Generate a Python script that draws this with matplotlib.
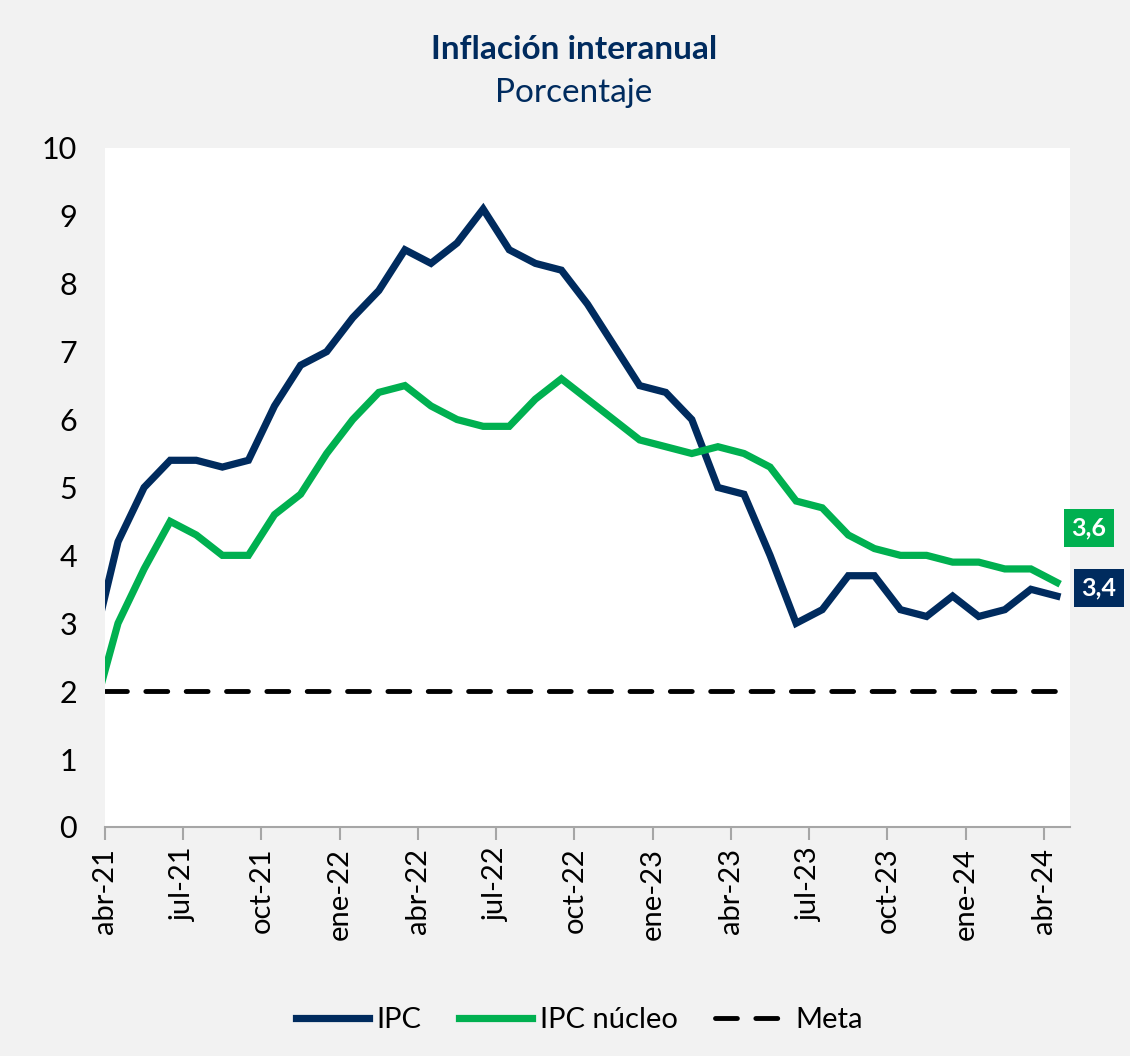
import numpy as np
import matplotlib.pyplot as plt

# meses mar-21 .. abr-24 (el primero queda fuera del eje, recortado)
meses = ['mar-21', 'abr-21', 'may-21', 'jun-21', 'jul-21', 'ago-21', 'sep-21', 'oct-21', 'nov-21', 'dic-21',
         'ene-22', 'feb-22', 'mar-22', 'abr-22', 'may-22', 'jun-22', 'jul-22', 'ago-22', 'sep-22', 'oct-22',
         'nov-22', 'dic-22', 'ene-23', 'feb-23', 'mar-23', 'abr-23', 'may-23', 'jun-23', 'jul-23', 'ago-23',
         'sep-23', 'oct-23', 'nov-23', 'dic-23', 'ene-24', 'feb-24', 'mar-24', 'abr-24']
ipc = [2.6, 4.2, 5.0, 5.4, 5.4, 5.3, 5.4, 6.2, 6.8, 7.0,
       7.5, 7.9, 8.5, 8.3, 8.6, 9.1, 8.5, 8.3, 8.2, 7.7,
       7.1, 6.5, 6.4, 6.0, 5.0, 4.9, 4.0, 3.0, 3.2, 3.7,
       3.7, 3.2, 3.1, 3.4, 3.1, 3.2, 3.5, 3.4]
nucleo = [1.6, 3.0, 3.8, 4.5, 4.3, 4.0, 4.0, 4.6, 4.9, 5.5,
          6.0, 6.4, 6.5, 6.2, 6.0, 5.9, 5.9, 6.3, 6.6, 6.3,
          6.0, 5.7, 5.6, 5.5, 5.6, 5.5, 5.3, 4.8, 4.7, 4.3,
          4.1, 4.0, 4.0, 3.9, 3.9, 3.8, 3.8, 3.6]
meta = 2
etiquetas_x = ['abr-21', 'jul-21', 'oct-21', 'ene-22', 'abr-22', 'jul-22', 'oct-22',
               'ene-23', 'abr-23', 'jul-23', 'oct-23', 'ene-24', 'abr-24']

NAVY = '#002B5E'
GREEN = '#00B050'
BG = '#F2F2F2'

plt.rcParams['font.family'] = ['Lato', 'DejaVu Sans']

fig = plt.figure(figsize=(11.3, 10.56), dpi=100, facecolor=BG)
ax = fig.add_axes([0.0929, 0.2169, 0.854, 0.643])
ax.set_facecolor('white')

x = np.arange(len(meses)) - 0.5
ax.plot(x, ipc, color=NAVY, lw=5.2, solid_joinstyle='miter', label='IPC', zorder=3)
ax.plot(x, nucleo, color=GREEN, lw=5.2, solid_joinstyle='miter', label='IPC núcleo', zorder=3)
ax.axhline(meta, color='black', lw=3.5, ls=(0, (4.5, 3.8)), dash_capstyle='round', label='Meta', zorder=2)

ax.set_xlim(0, 37)
ax.set_ylim(0, 10)
ax.set_yticks(range(0, 11))
ax.set_yticklabels([str(v) for v in range(0, 11)], fontsize=22)
ax.set_xticks(np.arange(0, 37, 3))
ax.set_xticklabels(etiquetas_x, rotation=90, fontsize=21)

for s in ['top', 'right', 'left']:
    ax.spines[s].set_visible(False)
ax.spines['bottom'].set_color('#A6A6A6')
ax.spines['bottom'].set_linewidth(1.5)
ax.tick_params(axis='y', length=0, pad=20)
ax.tick_params(axis='x', length=9, width=1.5, color='#A6A6A6', pad=6)

# etiquetas del último dato
ax.annotate('3,6', (x[-1], nucleo[-1]), xytext=(23, 39), textcoords='offset points',
            ha='center', va='center', color='white', fontsize=18, fontweight='bold',
            bbox=dict(boxstyle='square,pad=0.3', fc=GREEN, ec='none'), annotation_clip=False)
ax.annotate('3,4', (x[-1], ipc[-1]), xytext=(30, 6), textcoords='offset points',
            ha='center', va='center', color='white', fontsize=18, fontweight='bold',
            bbox=dict(boxstyle='square,pad=0.3', fc=NAVY, ec='none'), annotation_clip=False)

fig.text(0.508, 0.953, 'Inflación interanual', ha='center', va='center', fontsize=24,
         fontweight='bold', color=NAVY)
fig.text(0.508, 0.912, 'Porcentaje', ha='center', va='center', fontsize=24, color=NAVY)

fig.legend(loc='center', bbox_to_anchor=(0.513, 0.034), ncol=3, frameon=False, fontsize=21,
           handlelength=2.5, handletextpad=0.25, columnspacing=1.3)

fig.savefig('out.png', dpi=100, facecolor=BG)
